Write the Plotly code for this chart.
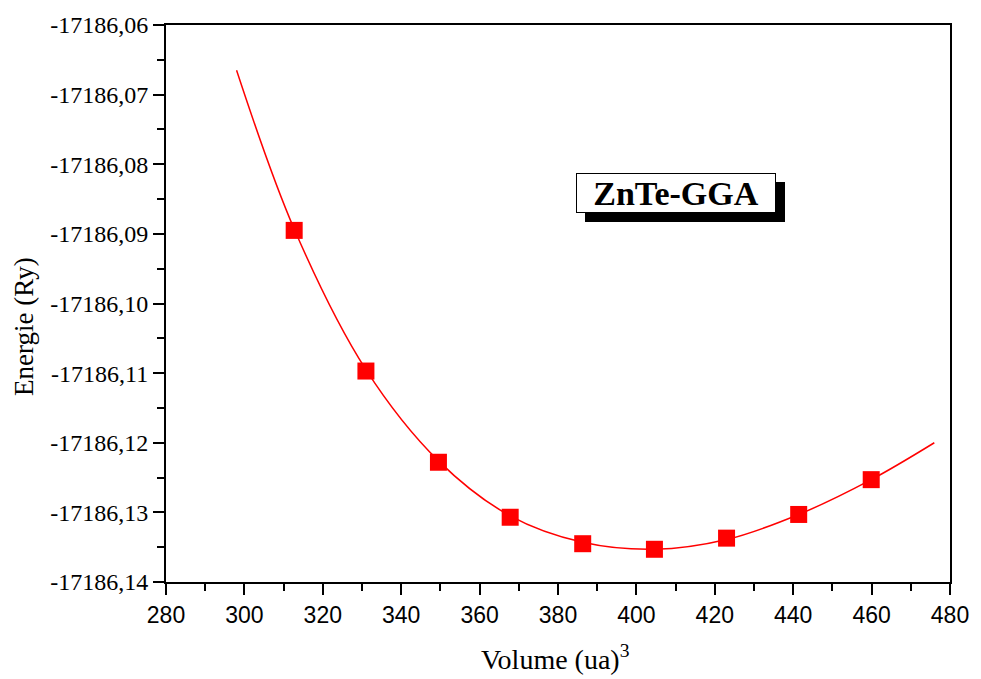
import plotly.graph_objects as go

# Data points (volume in ua^3, energy in Ry)
volume = [312.7, 331.0, 349.5, 367.8, 386.3, 404.6, 423.0, 441.4, 459.9]
energy = [-17186.0895, -17186.1097, -17186.1228, -17186.1307, -17186.1345,
          -17186.1353, -17186.1337, -17186.1303, -17186.1253]

# Fitted curve
fit_volume = [298.0, 312.7, 331.0, 349.5, 367.8, 386.3, 404.6, 423.0, 441.4, 459.9, 476.0]
fit_energy = [-17186.0665, -17186.0893, -17186.1095, -17186.1226, -17186.1305,
              -17186.1343, -17186.1353, -17186.1339, -17186.1303, -17186.1253, -17186.1200]

x_ticks = [280, 300, 320, 340, 360, 380, 400, 420, 440, 460, 480]
y_ticks = [-17186.06, -17186.07, -17186.08, -17186.09, -17186.10,
           -17186.11, -17186.12, -17186.13, -17186.14]
y_ticktext = ["-17186,06", "-17186,07", "-17186,08", "-17186,09", "-17186,10",
              "-17186,11", "-17186,12", "-17186,13", "-17186,14"]

SERIF = "Liberation Serif, Times New Roman"

fig = go.Figure()
fig.add_trace(go.Scatter(x=fit_volume, y=fit_energy, mode="lines",
                         line=dict(color="red", width=1.5, shape="spline", smoothing=1.0),
                         showlegend=False, hoverinfo="skip"))
fig.add_trace(go.Scatter(x=volume, y=energy, mode="markers",
                         marker=dict(symbol="square", size=17, color="red", line=dict(width=0)),
                         showlegend=False))

fig.update_layout(
    width=981, height=679,
    margin=dict(l=166, r=26, t=17, b=97),
    paper_bgcolor="white", plot_bgcolor="white",
    xaxis=dict(range=[280, 480], tickvals=x_ticks, ticks="outside", ticklen=11, tickwidth=2,
               tickcolor="black", showline=True, linecolor="black", linewidth=2, mirror=True,
               showgrid=False, zeroline=False,
               tickfont=dict(family="Liberation Sans, Arial", size=23, color="black"),
               minor=dict(ticks="outside", ticklen=7, tickwidth=2, tickcolor="black", dtick=10,
                          showgrid=False)),
    yaxis=dict(range=[-17186.14, -17186.06], tickvals=y_ticks, ticktext=y_ticktext,
               ticks="outside", ticklen=11, tickwidth=2, tickcolor="black",
               showline=True, linecolor="black", linewidth=2, mirror=True,
               showgrid=False, zeroline=False,
               tickfont=dict(family=SERIF, size=24, color="black"),
               minor=dict(ticks="outside", ticklen=7, tickwidth=2, tickcolor="black",
                          tickvals=[-17186.065, -17186.075, -17186.085, -17186.095, -17186.105,
                                    -17186.115, -17186.125, -17186.135],
                          showgrid=False)),
)

# Axis titles
fig.add_annotation(text="Volume (ua)<sup>3</sup>", xref="paper", yref="paper",
                   x=0.497, y=-0.135, xanchor="center", yanchor="middle", showarrow=False,
                   font=dict(family=SERIF, size=28, color="black"))
fig.add_annotation(text="Energie (Ry)", xref="paper", yref="paper",
                   x=-0.181, y=0.458, xanchor="center", yanchor="middle",
                   showarrow=False, textangle=-90,
                   font=dict(family=SERIF, size=27, color="black"))

# Label box with shadow
label_x, label_y = 410.0, -17186.0842
fig.add_annotation(text="&nbsp;", x=label_x, y=label_y, xshift=9, yshift=-9,
                   showarrow=False, bgcolor="black", bordercolor="black", borderwidth=1,
                   width=196, height=36, borderpad=1,
                   font=dict(family=SERIF, size=34, color="black"))
fig.add_annotation(text="<b>ZnTe-GGA</b>", x=label_x, y=label_y,
                   showarrow=False, bgcolor="white", bordercolor="black", borderwidth=1,
                   width=196, height=36, borderpad=1,
                   font=dict(family=SERIF, size=34, color="black"))

fig.write_html("out.html")
